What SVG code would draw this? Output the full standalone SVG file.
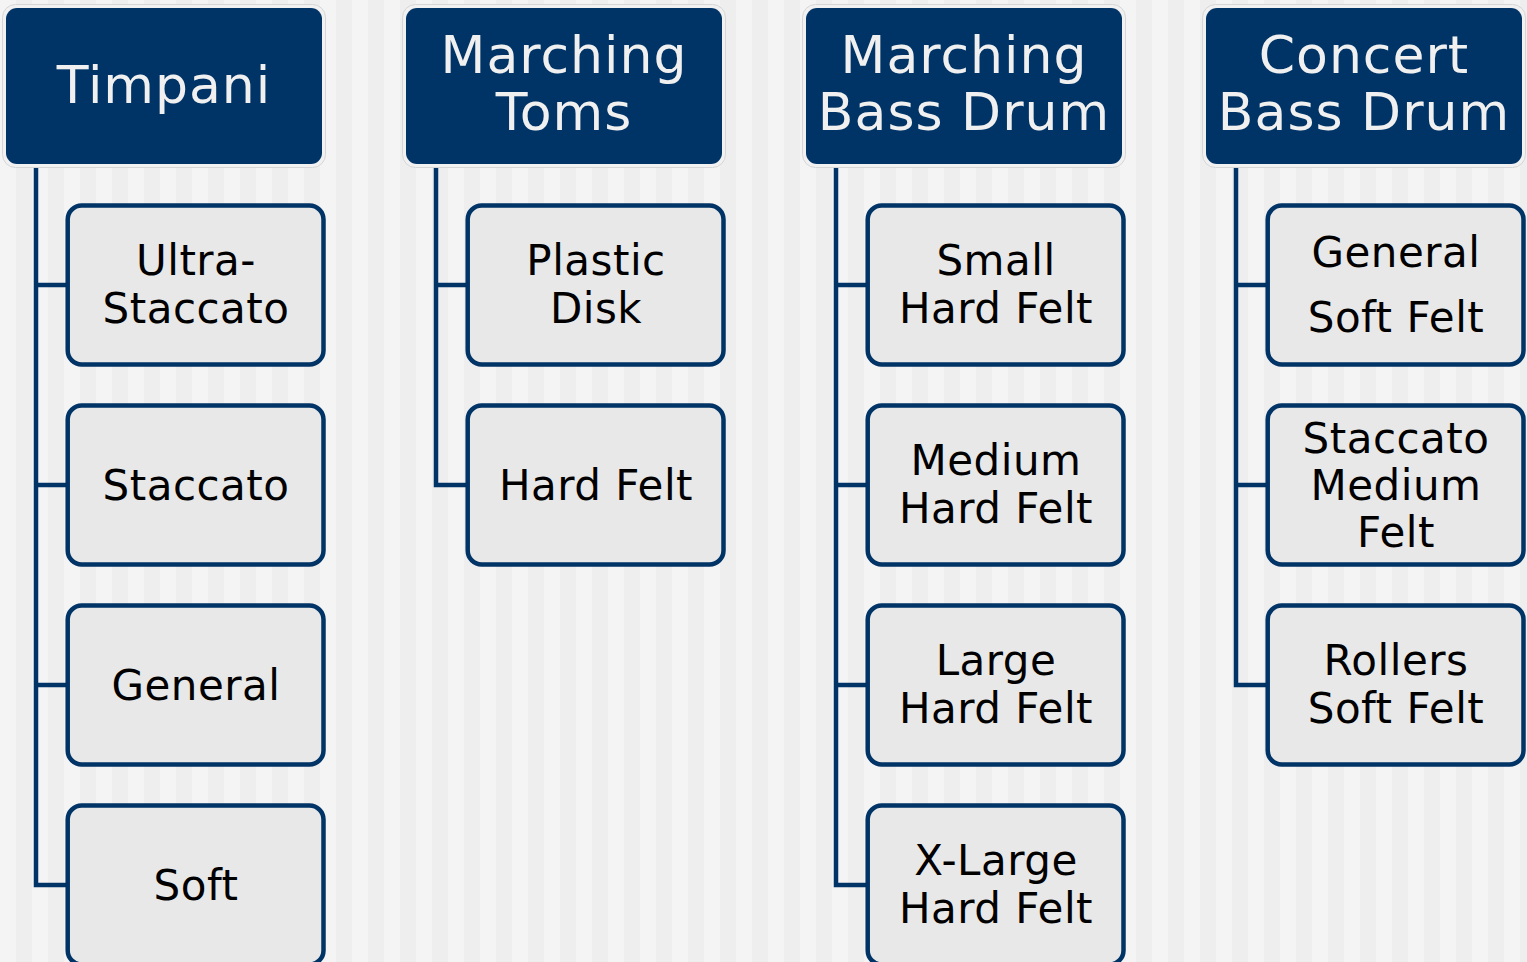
<svg xmlns="http://www.w3.org/2000/svg" width="1527" height="962" viewBox="0 0 1527 962">
<defs>
<pattern id="stripes" x="0" y="0" width="32" height="962" patternUnits="userSpaceOnUse">
<rect x="0" y="0" width="16" height="962" fill="#f4f4f4"/>
<rect x="16" y="0" width="16" height="962" fill="#eeeeee"/>
</pattern>
<style>
.hdo{fill:#f1f1f1;stroke:#d6d6d6;stroke-width:1}
.hd{fill:#003366}
.ht{fill:#f0f0f0;font-family:"DejaVu Sans",Verdana,sans-serif;font-size:52px;letter-spacing:1px;text-anchor:middle}
.bx{fill:#e8e8e8;stroke:#003366;stroke-width:4.5}
.bt{fill:#000;font-family:"DejaVu Sans",Verdana,sans-serif;font-size:42px;letter-spacing:0.5px;text-anchor:middle}
.cn{fill:none;stroke:#003366;stroke-width:4.5;stroke-linejoin:miter;stroke-linecap:butt}
</style>
</defs>
<rect x="0" y="0" width="1527" height="962" fill="url(#stripes)"/>

<g id="connectors">
<path class="cn" d="M36,164 V885 H67 M36,285 H67 M36,485 H67 M36,685 H67"/>
<path class="cn" d="M436,164 V485 H467 M436,285 H467"/>
<path class="cn" d="M836,164 V885 H867 M836,285 H867 M836,485 H867 M836,685 H867"/>
<path class="cn" d="M1236,164 V685 H1267 M1236,285 H1267 M1236,485 H1267"/>
</g>

<g id="timpani">
<rect class="hdo" x="2.5" y="4.5" width="323" height="163" rx="13"/>
<rect class="hd" x="6" y="8" width="316" height="156" rx="11"/>
<text class="ht" x="164" y="103">Timpani</text>
</g>
<g id="marching-toms">
<rect class="hdo" x="402.5" y="4.5" width="323" height="163" rx="13"/>
<rect class="hd" x="406" y="8" width="316" height="156" rx="11"/>
<text class="ht" x="564" y="73">Marching</text>
<text class="ht" x="564" y="130">Toms</text>
</g>
<g id="marching-bass-drum">
<rect class="hdo" x="802.5" y="4.5" width="323" height="163" rx="13"/>
<rect class="hd" x="806" y="8" width="316" height="156" rx="11"/>
<text class="ht" x="964" y="73">Marching</text>
<text class="ht" x="964" y="130">Bass Drum</text>
</g>
<g id="concert-bass-drum">
<rect class="hdo" x="1202.5" y="4.5" width="323" height="163" rx="13"/>
<rect class="hd" x="1206" y="8" width="316" height="156" rx="11"/>
<text class="ht" x="1364" y="73">Concert</text>
<text class="ht" x="1364" y="130">Bass Drum</text>
</g>

<g id="t-ultra-staccato">
<rect class="bx" x="67.7" y="205.5" width="255.8" height="159" rx="14"/>
<text class="bt" x="196" y="275">Ultra-</text>
<text class="bt" x="196" y="323">Staccato</text>
</g>
<g id="t-staccato">
<rect class="bx" x="67.7" y="405.5" width="255.8" height="159" rx="14"/>
<text class="bt" x="196" y="500">Staccato</text>
</g>
<g id="t-general">
<rect class="bx" x="67.7" y="605.5" width="255.8" height="159" rx="14"/>
<text class="bt" x="196" y="700">General</text>
</g>
<g id="t-soft">
<rect class="bx" x="67.7" y="805.5" width="255.8" height="159" rx="14"/>
<text class="bt" x="196" y="900">Soft</text>
</g>

<g id="mt-plastic-disk">
<rect class="bx" x="467.7" y="205.5" width="255.8" height="159" rx="14"/>
<text class="bt" x="596" y="275">Plastic</text>
<text class="bt" x="596" y="323">Disk</text>
</g>
<g id="mt-hard-felt">
<rect class="bx" x="467.7" y="405.5" width="255.8" height="159" rx="14"/>
<text class="bt" x="596" y="500">Hard Felt</text>
</g>

<g id="mb-small">
<rect class="bx" x="867.7" y="205.5" width="255.8" height="159" rx="14"/>
<text class="bt" x="996" y="275">Small</text>
<text class="bt" x="996" y="323">Hard Felt</text>
</g>
<g id="mb-medium">
<rect class="bx" x="867.7" y="405.5" width="255.8" height="159" rx="14"/>
<text class="bt" x="996" y="475">Medium</text>
<text class="bt" x="996" y="523">Hard Felt</text>
</g>
<g id="mb-large">
<rect class="bx" x="867.7" y="605.5" width="255.8" height="159" rx="14"/>
<text class="bt" x="996" y="675">Large</text>
<text class="bt" x="996" y="723">Hard Felt</text>
</g>
<g id="mb-xlarge">
<rect class="bx" x="867.7" y="805.5" width="255.8" height="159" rx="14"/>
<text class="bt" x="996" y="875">X-Large</text>
<text class="bt" x="996" y="923">Hard Felt</text>
</g>

<g id="cb-general-soft">
<rect class="bx" x="1267.7" y="205.5" width="255.8" height="159" rx="14"/>
<text class="bt" x="1396" y="267">General</text>
<text class="bt" x="1396" y="332">Soft Felt</text>
</g>
<g id="cb-staccato-medium">
<rect class="bx" x="1267.7" y="405.5" width="255.8" height="159" rx="14"/>
<text class="bt" x="1396" y="453">Staccato</text>
<text class="bt" x="1396" y="500">Medium</text>
<text class="bt" x="1396" y="547">Felt</text>
</g>
<g id="cb-rollers">
<rect class="bx" x="1267.7" y="605.5" width="255.8" height="159" rx="14"/>
<text class="bt" x="1396" y="675">Rollers</text>
<text class="bt" x="1396" y="723">Soft Felt</text>
</g>
</svg>
